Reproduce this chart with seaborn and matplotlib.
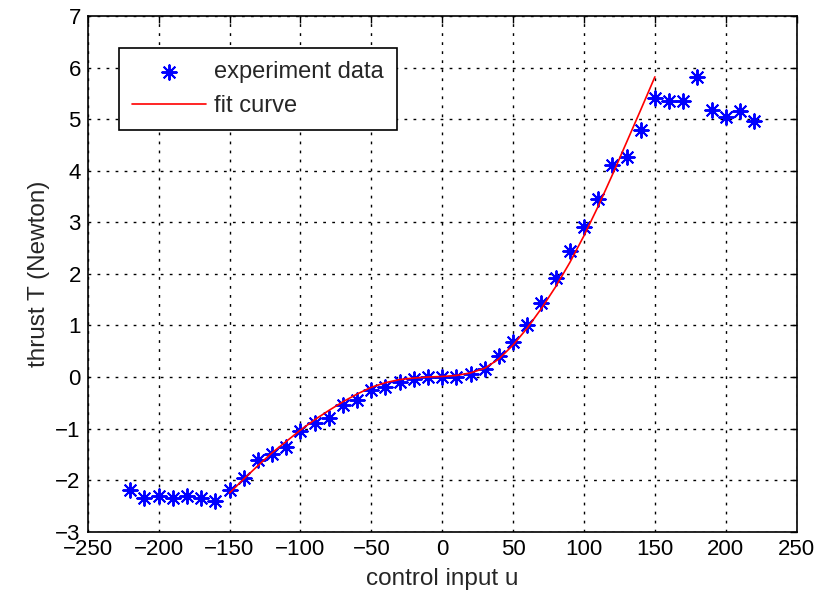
import numpy as np
import pandas as pd
import matplotlib
matplotlib.use("Agg")
import matplotlib.pyplot as plt
import seaborn as sns

# experiment data (control input u, thrust T)
u_data = [-220, -210, -200, -190, -180, -170, -160, -150, -140, -130, -120,
          -110, -100, -90, -80, -70, -60, -50, -40, -30, -20, -10, 0, 10,
          20, 30, 40, 50, 60, 70, 80, 90, 100, 110, 120, 130, 140, 150,
          160, 170, 180, 190, 200, 210, 220]
t_data = [-2.2, -2.35, -2.3, -2.35, -2.3, -2.35, -2.4, -2.2, -1.95, -1.6, -1.5,
          -1.35, -1.05, -0.9, -0.8, -0.55, -0.45, -0.25, -0.2, -0.1, -0.03, 0.0, 0.0, 0.0,
          0.05, 0.15, 0.4, 0.68, 1.01, 1.43, 1.92, 2.45, 2.91, 3.45, 4.12, 4.27, 4.78, 5.41,
          5.35, 5.35, 5.81, 5.17, 5.05, 5.15, 4.96]

# fit curve
u_fit = [-150, -140, -130, -120, -110, -100, -90, -80, -70, -60, -50, -40, -30,
         -20, -10, 0, 10, 20, 30, 40, 50, 60, 70, 80, 90, 100, 110, 120, 130,
         140, 150]
t_fit = [-2.25, -1.98, -1.72, -1.47, -1.25, -1.03, -0.83, -0.65, -0.48, -0.33,
         -0.2, -0.11, -0.05, -0.02, 0.0, 0.01, 0.03, 0.08, 0.17, 0.35, 0.62,
         0.95, 1.33, 1.75, 2.22, 2.74, 3.31, 3.92, 4.55, 5.18, 5.82]

df_data = pd.DataFrame({'u': u_data, 'T': t_data})
df_fit = pd.DataFrame({'u': u_fit, 'T': t_fit})

sns.set_theme(style="white")
plt.rcParams['font.family'] = ['Liberation Sans', 'DejaVu Sans']

fig = plt.figure(figsize=(8.17, 5.91), dpi=100)
ax = fig.add_axes([87.7 / 817, 1 - 531.7 / 591, 709 / 817, 515.7 / 591])

sns.scatterplot(data=df_data, x='u', y='T', ax=ax, marker=(8, 2, 0), s=110,
                color='blue', edgecolor='blue', linewidth=1.4,
                label='experiment data', zorder=3)
sns.lineplot(data=df_fit, x='u', y='T', ax=ax, color='red', lw=1.2,
             label='fit curve', zorder=4)

ax.set_xlim(-250, 250)
ax.set_ylim(-3, 7)
ax.set_xticks(np.arange(-250, 251, 50))
ax.set_yticks(np.arange(-3, 8, 1))
ax.set_xticklabels([f"\u2212{abs(v)}" if v < 0 else str(v) for v in range(-250, 251, 50)])
ax.set_yticklabels([f"\u2212{abs(v)}" if v < 0 else str(v) for v in range(-3, 8)])

ax.grid(True, color='black', linestyle=(0, (2, 4.5)), linewidth=1.0)
ax.tick_params(direction='in', length=5, width=1, top=True, right=True,
               labelsize=16, colors='black', pad=5)
for s in ax.spines.values():
    s.set_color('black')
    s.set_linewidth(1.2)

ax.set_xlabel('control input u', fontsize=17.5, labelpad=6)
ax.set_ylabel('thrust T (Newton)', fontsize=17.5, labelpad=4)

leg = ax.legend(loc='upper left', bbox_to_anchor=(0.0446, 0.937), fontsize=17,
                frameon=True, fancybox=False, framealpha=1, edgecolor='black',
                handlelength=3.1, handletextpad=0.35, borderpad=0.55,
                labelspacing=0.5, borderaxespad=0)
leg.get_frame().set_linewidth(1.2)

fig.savefig('out.png', dpi=100)
